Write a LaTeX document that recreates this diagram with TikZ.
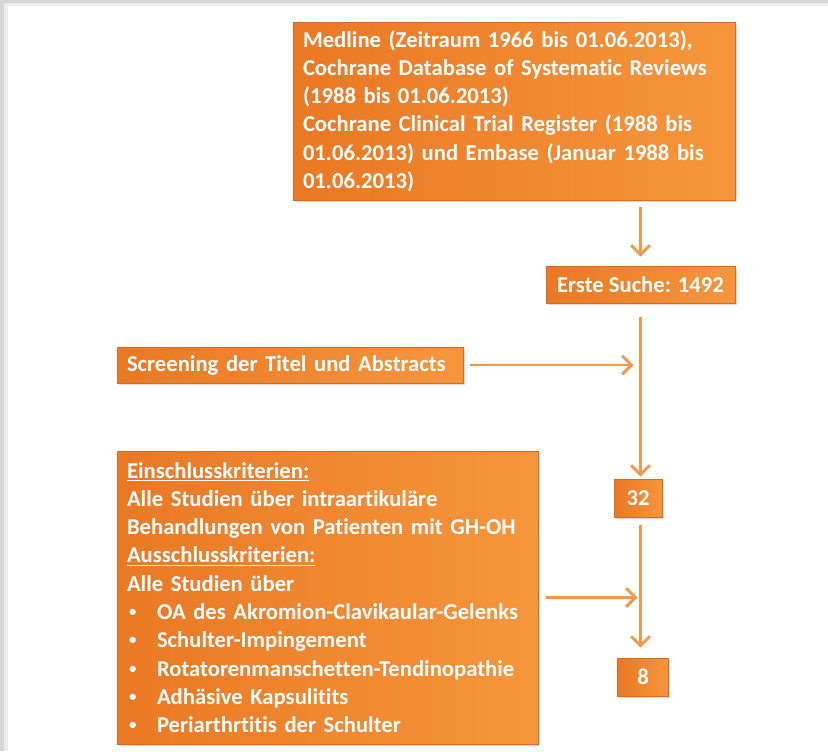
\documentclass[tikz,border=0pt]{standalone}
\usepackage{fontspec}
\setmainfont{Carlito}[Ligatures=NoCommon]
\usetikzlibrary{arrows.meta,shadows}

\definecolor{orangedark}{RGB}{234,120,36}
\definecolor{orangelight}{RGB}{246,150,60}
\definecolor{orangeedge}{RGB}{214,108,34}
\definecolor{flowcol}{RGB}{243,152,74}

\newcommand{\punkt}{\makebox[22.5pt][l]{\hspace{1.5pt}\raisebox{2.2pt}{\fontsize{11}{11}\selectfont\textbullet}}}

\begin{document}
\begin{tikzpicture}[
  x=0.75pt,y=-0.75pt,
  box/.style={draw=orangeedge,line width=0.5pt,left color=orangedark,right color=orangelight,
              text=white,inner xsep=7.5pt,inner ysep=0pt,
              font=\fontsize{17}{21.2}\selectfont\bfseries,
              drop shadow={shadow xshift=1.2pt,shadow yshift=-1.5pt,opacity=0.3}},
  txtbox/.style={box,align=left},
  numbox/.style={box,align=center,inner xsep=0pt},
  flow/.style={line width=2.2pt,flowcol,-{Straight Barb[length=7pt,width=14pt,line width=2.2pt]}}
]
\useasboundingbox (0,0) rectangle (828,751);

% ---- Rahmen ----
\fill[black!16] (0,0) rectangle (828,751);
\fill[black!7] (4,3) rectangle (828,751);
\fill[white] (8,6) rectangle (828,751);

% ---- Kaesten ----
\node[txtbox,text width=316.5pt,minimum height=133.5pt] (medline) at (514,111)
  {Medline (Zeitraum 1966 bis 01.06.2013),\\
   Cochrane Database of Systematic Reviews\\
   (1988 bis 01.06.2013)\\
   Cochrane Clinical Trial Register (1988 bis\\
   01.06.2013) und Embase (Januar 1988 bis\\
   01.06.2013)};
\node[numbox,minimum width=141.75pt,minimum height=27.75pt] (erste) at (640.5,284.5)
  {Erste Suche: 1492};
\node[txtbox,text width=244.5pt,minimum height=27pt] (screening) at (290,365)
  {Screening der Titel und Abstracts};
\node[txtbox,text width=300.75pt,minimum height=219.75pt] (kriterien) at (327.5,597.5)
  {\underline{Einschlusskriterien:}\\
   Alle Studien über intraartikuläre\\
   Behandlungen von Patienten mit GH-OH\\
   \underline{Ausschlusskriterien:}\\
   Alle Studien über\\
   \punkt OA des Akromion-Clavikaular-Gelenks\\
   \punkt Schulter-Impingement\\
   \punkt Rotatorenmanschetten-Tendinopathie\\
   \punkt Adhäsive Kapsulitits\\
   \punkt Periarthrtitis der Schulter};
\node[numbox,minimum width=36pt,minimum height=28.5pt] (n32) at (638,498) {32};
\node[numbox,minimum width=38.25pt,minimum height=28.5pt] (n8) at (643,677) {8};

% ---- Pfeile ----
\coordinate (j1) at (erste.south |- screening.east);
\coordinate (j2) at (erste.south |- kriterien.east);

\draw[flow,shorten <=5.25pt,shorten >=6.75pt] (medline.south -| erste.north) -- (erste.north);
\draw[flow,shorten <=10.5pt,shorten >=1.5pt] (erste.south) -- (erste.south |- n32.north);
\draw[flow,shorten <=5.25pt,shorten >=5.25pt] (screening.east) -- (j1);
\draw[flow,shorten <=6pt,shorten >=2.25pt] (kriterien.east) -- (j2);
\draw[flow,shorten <=6pt,shorten >=7.5pt] (erste.south |- n32.south) -- (erste.south |- n8.north);

\end{tikzpicture}
\end{document}
